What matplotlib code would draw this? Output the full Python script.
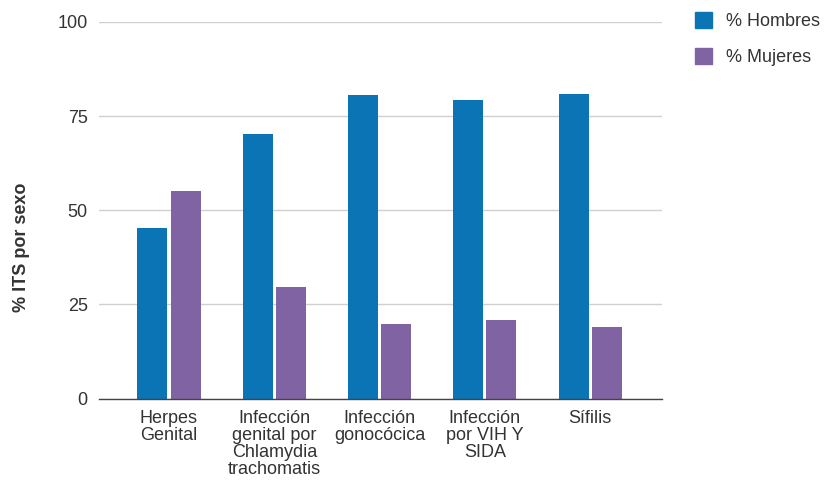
import matplotlib
matplotlib.use("Agg")
import matplotlib.pyplot as plt
from matplotlib.patches import Patch
import numpy as np

plt.rcParams['font.family'] = ['Liberation Sans', 'DejaVu Sans']

categories = ["Herpes\nGenital", "Infección\ngenital por\nChlamydia\ntrachomatis",
              "Infección\ngonocócica", "Infección\npor VIH Y\nSIDA", "Sífilis"]
hombres = [45.2, 70.3, 80.5, 79.3, 80.8]
mujeres = [55.0, 29.7, 19.7, 20.8, 19.1]
series_names = ["% Hombres", "% Mujeres"]
yticks = [0, 25, 50, 75, 100]

blue = "#0b74b4"
purple = "#7f63a3"
text_color = "#333333"

fig = plt.figure(figsize=(8.24, 4.8), dpi=100)
ax = fig.add_axes([0.1201, 0.1694, 0.683, 0.785])

x = np.arange(len(categories))
w = 0.285
gap = 0.015
ax.bar(x - w / 2 - gap, hombres, width=w, color=blue, zorder=3)
ax.bar(x + w / 2 + gap, mujeres, width=w, color=purple, zorder=3)

ax.set_xlim(-0.665, 4.68)
ax.set_ylim(0, 100)
ax.set_yticks(yticks)
ax.set_yticklabels([str(v) for v in yticks])
ax.set_xticks(x)
ax.set_xticklabels(categories, linespacing=1.0)

ax.grid(axis="y", color="#d0d0d0", linewidth=1, zorder=0)
for s in ["top", "right", "left"]:
    ax.spines[s].set_visible(False)
ax.spines["bottom"].set_color("#444444")
ax.spines["bottom"].set_linewidth(1)
ax.spines["bottom"].set_zorder(4)
ax.tick_params(axis="both", length=0, labelsize=13, colors=text_color)
ax.tick_params(axis="y", pad=8)
ax.tick_params(axis="x", pad=8)

ax.set_ylabel("% ITS por sexo", fontsize=13, fontweight="bold", color=text_color)
ax.yaxis.set_label_coords(-0.122, 0.403)

handles = [Patch(color=blue), Patch(color=purple)]
fig.legend(handles, series_names, loc="upper left", bbox_to_anchor=(0.835, 0.99),
           frameon=False, fontsize=13, handlelength=0.95, handleheight=0.95,
           handletextpad=0.75, labelspacing=1.0, labelcolor=text_color,
           borderaxespad=0.0)

fig.savefig("out.png", dpi=100)
